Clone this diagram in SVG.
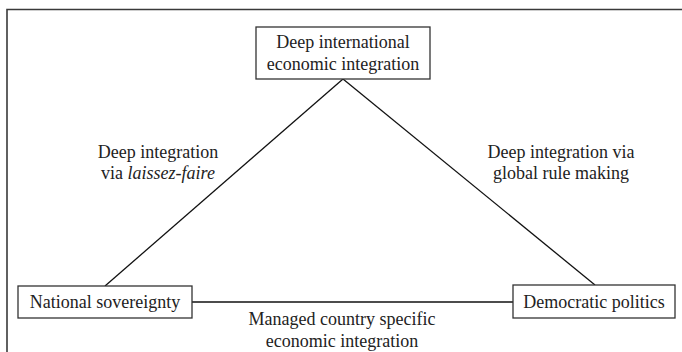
<svg xmlns="http://www.w3.org/2000/svg" width="682" height="352" viewBox="0 0 682 352">
<style>
.frame{stroke:#3a3a3a;stroke-width:1.6;fill:none}
.box{fill:#fff;stroke:#333;stroke-width:1.3}
.edge{stroke:#111;stroke-width:1.3;fill:none}
text{font-family:"Liberation Serif","Times New Roman",serif;font-size:18px;fill:#222;text-anchor:middle}
</style>
<rect width="682" height="352" fill="#fff"/>
<path class="frame" d="M7 352 V9.5 H682"/>
<g id="connectors">
<line class="edge" x1="343" y1="79" x2="105" y2="286"/>
<line class="edge" x1="343" y1="79" x2="595" y2="285"/>
<line class="edge" x1="192" y1="302" x2="513" y2="302"/>
</g>
<g id="top">
<rect class="box" x="256" y="27" width="174" height="52"/>
<text x="343" y="48">Deep international</text>
<text x="343" y="70">economic integration</text>
</g>
<g id="left">
<rect class="box" x="18" y="286" width="174" height="32"/>
<text x="105" y="308">National sovereignty</text>
</g>
<g id="right">
<rect class="box" x="513" y="285" width="162" height="33"/>
<text x="594" y="308">Democratic politics</text>
</g>
<g id="labels">
<text x="158" y="158">Deep integration</text>
<text x="158" y="179">via <tspan font-style="italic">laissez-faire</tspan></text>
<text x="561" y="158">Deep integration via</text>
<text x="561" y="179">global rule making</text>
<text x="342" y="325">Managed country specific</text>
<text x="342" y="347">economic integration</text>
</g>
</svg>
